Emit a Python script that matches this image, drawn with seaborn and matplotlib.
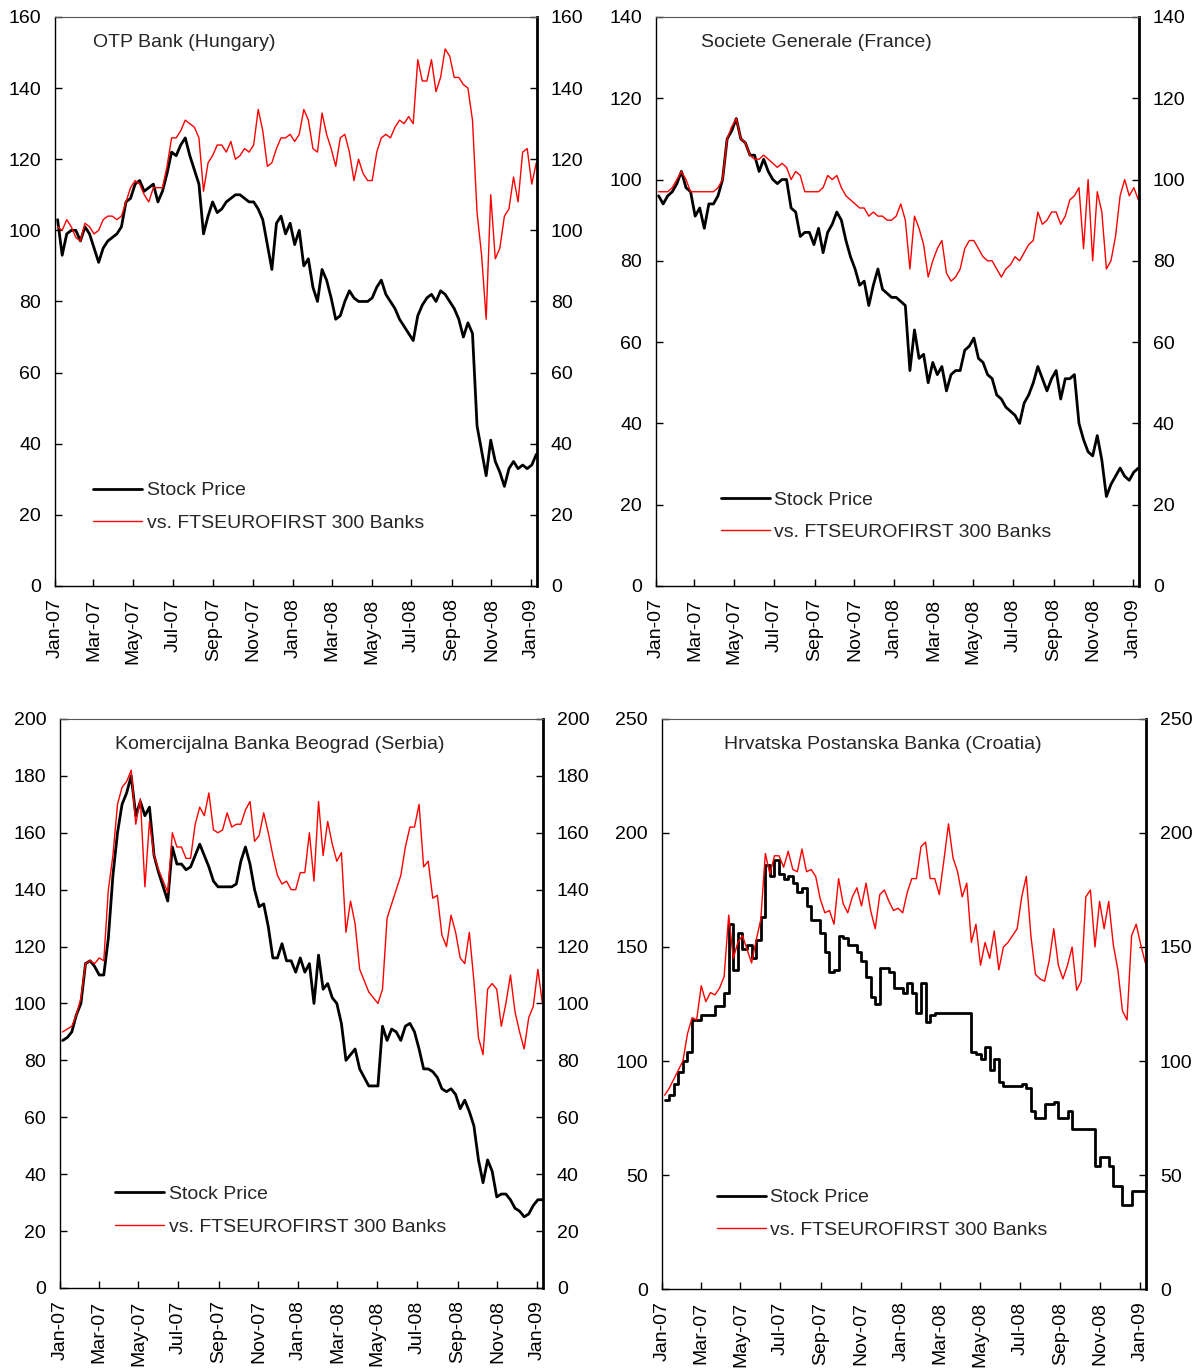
import pandas as pd
import matplotlib
matplotlib.use('Agg')
import matplotlib.pyplot as plt
import matplotlib.dates as mdates
import seaborn as sns

# --- weekly readings (Fridays), Jan-07 .. Jan-09 ---
weeks = pd.date_range('2007-01-05', periods=106, freq='7D')

otp_stock = [103, 93, 99, 100, 100, 97, 101, 99, 95, 91,
             95, 97, 98, 99, 101, 108, 109, 113, 114, 111,
             112, 113, 108, 111, 116, 122, 121, 124, 126, 121,
             117, 113, 99, 104, 108, 105, 106, 108, 109, 110,
             110, 109, 108, 108, 106, 103, 96, 89, 102, 104,
             99, 102, 96, 100, 90, 92, 84, 80, 89, 86,
             81, 75, 76, 80, 83, 81, 80, 80, 80, 81,
             84, 86, 82, 80, 78, 75, 73, 71, 69, 76,
             79, 81, 82, 80, 83, 82, 80, 78, 75, 70,
             74, 71, 45, 38, 31, 41, 35, 32, 28, 33,
             35, 33, 34, 33, 34, 37]
otp_rel = [101, 100, 103, 101, 98, 97, 102, 101, 99, 100,
           103, 104, 104, 103, 104, 108, 112, 114, 113, 110,
           108, 112, 112, 112, 118, 126, 126, 128, 131, 130,
           129, 126, 111, 119, 121, 124, 124, 122, 125, 120,
           121, 123, 122, 124, 134, 128, 118, 119, 123, 126,
           126, 127, 125, 127, 134, 131, 123, 122, 133, 127,
           123, 118, 126, 127, 122, 114, 120, 116, 114, 114,
           122, 126, 127, 126, 129, 131, 130, 132, 130, 148,
           142, 142, 148, 139, 143, 151, 149, 143, 143, 141,
           140, 131, 105, 93, 75, 110, 92, 95, 104, 106,
           115, 108, 122, 123, 113, 119]

socgen_stock = [96, 94, 96, 97, 99, 102, 98, 97, 91, 93,
                88, 94, 94, 96, 100, 110, 112, 115, 110, 109,
                106, 106, 102, 105, 102, 100, 99, 100, 100, 93,
                92, 86, 87, 87, 84, 88, 82, 87, 89, 92,
                90, 85, 81, 78, 74, 75, 69, 74, 78, 73,
                72, 71, 71, 70, 69, 53, 63, 56, 57, 50,
                55, 52, 54, 48, 52, 53, 53, 58, 59, 61,
                56, 55, 52, 51, 47, 46, 44, 43, 42, 40,
                45, 47, 50, 54, 51, 48, 51, 53, 46, 51,
                51, 52, 40, 36, 33, 32, 37, 31, 22, 25,
                27, 29, 27, 26, 28, 29]
socgen_rel = [97, 97, 97, 98, 100, 102, 100, 97, 97, 97,
              97, 97, 97, 98, 100, 110, 113, 115, 110, 109,
              106, 105, 105, 106, 105, 104, 103, 104, 103, 100,
              102, 101, 97, 97, 97, 97, 98, 101, 100, 101,
              98, 96, 95, 94, 93, 93, 91, 92, 91, 91,
              90, 90, 91, 94, 90, 78, 91, 88, 84, 76,
              80, 83, 85, 77, 75, 76, 78, 83, 85, 85,
              83, 81, 80, 80, 78, 76, 78, 79, 81, 80,
              82, 84, 85, 92, 89, 90, 92, 92, 89, 91,
              95, 96, 98, 83, 100, 80, 97, 92, 78, 80,
              86, 96, 100, 96, 98, 95]

kb_stock = [87, 88, 90, 96, 100, 114, 115, 113, 110, 110,
            123, 145, 160, 170, 174, 180, 166, 171, 166, 169,
            152, 146, 141, 136, 155, 149, 149, 147, 148, 152,
            156, 152, 148, 143, 141, 141, 141, 141, 142, 150,
            155, 149, 140, 134, 135, 127, 116, 116, 121, 115,
            115, 111, 116, 111, 114, 100, 117, 105, 107, 102,
            100, 93, 80, 82, 84, 77, 74, 71, 71, 71,
            92, 87, 91, 90, 87, 92, 93, 90, 84, 77,
            77, 76, 74, 70, 69, 70, 68, 63, 66, 62,
            57, 45, 37, 45, 41, 32, 33, 33, 31, 28,
            27, 25, 26, 29, 31, 31]
kb_rel = [90, 91, 92, 96, 102, 114, 115, 114, 116, 115,
          140, 152, 170, 176, 178, 182, 163, 172, 141, 164,
          152, 147, 143, 139, 160, 155, 155, 151, 151, 163,
          169, 166, 174, 161, 160, 161, 167, 162, 163, 163,
          168, 171, 157, 159, 167, 160, 152, 145, 142, 143,
          140, 140, 146, 146, 160, 143, 171, 152, 164, 156,
          150, 153, 125, 136, 128, 112, 108, 104, 102, 100,
          105, 130, 135, 140, 145, 155, 162, 162, 170, 148,
          150, 137, 138, 124, 120, 131, 125, 116, 114, 125,
          108, 88, 82, 105, 107, 105, 92, 100, 110, 97,
          90, 84, 95, 99, 112, 100]

hpb_stock = [83, 85, 90, 95, 100, 104, 118, 118, 120, 120,
             120, 124, 124, 130, 160, 140, 156, 149, 151, 145,
             153, 163, 186, 181, 188, 182, 180, 181, 178, 174,
             176, 168, 162, 162, 156, 148, 139, 140, 155, 154,
             151, 151, 148, 144, 137, 128, 125, 141, 141, 139,
             132, 132, 130, 134, 130, 121, 134, 117, 120, 121,
             121, 121, 121, 121, 121, 121, 121, 104, 103, 101,
             106, 96, 101, 91, 89, 89, 89, 89, 90, 88,
             78, 75, 75, 81, 81, 82, 75, 75, 78, 70,
             70, 70, 70, 70, 54, 58, 58, 54, 45, 45,
             37, 37, 43, 43, 43, 43]
hpb_rel = [85, 88, 92, 96, 100, 112, 119, 118, 133, 126,
           130, 129, 132, 137, 164, 145, 152, 155, 149, 143,
           153, 162, 191, 182, 190, 190, 185, 192, 184, 183,
           193, 183, 184, 181, 171, 165, 166, 160, 180, 169,
           165, 172, 176, 168, 178, 166, 158, 173, 175, 170,
           166, 167, 165, 174, 180, 180, 194, 196, 180, 180,
           173, 188, 204, 189, 183, 172, 178, 152, 160, 142,
           152, 145, 157, 140, 150, 152, 155, 158, 172, 181,
           155, 138, 136, 135, 144, 158, 142, 136, 142, 150,
           131, 135, 172, 175, 150, 170, 158, 170, 151, 140,
           122, 118, 155, 160, 151, 143]

titles = ['OTP Bank (Hungary)', 'Societe Generale (France)',
          'Komercijalna Banka Beograd (Serbia)', 'Hrvatska Postanska Banka (Croatia)']
stock_series = [otp_stock, socgen_stock, kb_stock, hpb_stock]
rel_series = [otp_rel, socgen_rel, kb_rel, hpb_rel]
y_max = [160, 140, 200, 250]
y_step = [20, 20, 20, 50]
# the Croatian stock trades rarely, so it is drawn as a stair line
stock_draw = ['default', 'default', 'default', 'steps-post']

# layout (figure fractions) and in-axes text positions
positions = [[0.0458, 0.5723, 0.4013, 0.4153],
             [0.5462, 0.5723, 0.4022, 0.4153],
             [0.0500, 0.0599, 0.4022, 0.4153],
             [0.5512, 0.0591, 0.4030, 0.4161]]
title_xy = [(0.079, 0.955), (0.093, 0.955), (0.114, 0.956), (0.128, 0.956)]
legend_xy = [(0.079, 0.183), (0.1346, 0.167), (0.114, 0.180), (0.1136, 0.176)]

sns.set_theme(style='white')
plt.rcParams['font.family'] = ['Liberation Sans', 'DejaVu Sans']

fig = plt.figure(figsize=(12.01, 13.70), dpi=100)

for k in range(4):
    ax = fig.add_axes(positions[k])
    df = pd.DataFrame({'Date': weeks, 'Stock': stock_series[k], 'Rel': rel_series[k]})
    sns.lineplot(data=df, x='Date', y='Stock', ax=ax, color='black', linewidth=2.0,
                 drawstyle=stock_draw[k], label='Stock Price')
    sns.lineplot(data=df, x='Date', y='Rel', ax=ax, color='red', linewidth=1.0,
                 label='vs. FTSEUROFIRST 300 Banks')

    ax.set_xlim(pd.Timestamp('2007-01-01'), pd.Timestamp('2009-01-10'))
    ax.set_ylim(0, y_max[k])
    ax.set_yticks(range(0, y_max[k] + 1, y_step[k]))
    ax.xaxis.set_major_locator(mdates.MonthLocator(bymonth=[1, 3, 5, 7, 9, 11]))
    ax.xaxis.set_major_formatter(mdates.DateFormatter('%b-%y'))
    ax.set_xlabel('')
    ax.set_ylabel('')

    ax.tick_params(axis='x', direction='in', length=5, width=1, colors='black',
                   labelsize=14, rotation=90, pad=9, bottom=True)
    ax.tick_params(axis='y', direction='in', length=5, width=1, colors='black',
                   labelsize=14, pad=10, left=True, right=True,
                   labelleft=True, labelright=True)

    for side in ['left', 'bottom']:
        ax.spines[side].set_color('black')
        ax.spines[side].set_linewidth(1.0)
    ax.spines['top'].set_color('#555555')
    ax.spines['top'].set_linewidth(0.8)
    ax.spines['right'].set_color('black')
    ax.spines['right'].set_linewidth(2.0)

    ax.text(title_xy[k][0], title_xy[k][1], titles[k], transform=ax.transAxes,
            ha='left', va='center', fontsize=14)
    ax.legend(loc='upper left', bbox_to_anchor=legend_xy[k], frameon=False,
              fontsize=14, handlelength=2.5, handletextpad=0.25, labelspacing=0.76,
              borderpad=0, borderaxespad=0)

fig.savefig('out.png', dpi=100)
